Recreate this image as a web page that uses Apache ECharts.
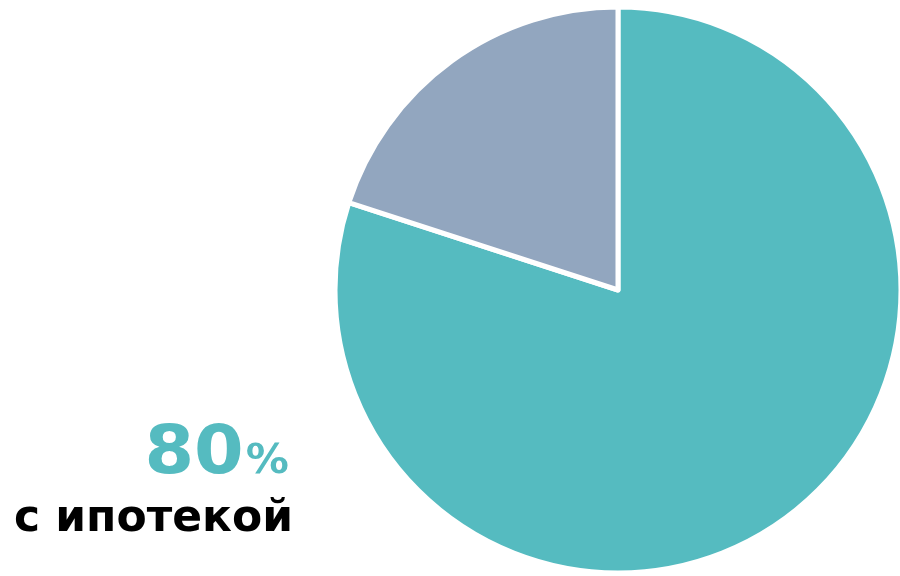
<!DOCTYPE html>
<html><head><meta charset="utf-8">
<script src="https://cdn.jsdelivr.net/npm/echarts@6/dist/echarts.min.js"></script>
<style>html,body{margin:0;padding:0;background:#fff}#c{width:900px;height:576px}</style>
</head><body><div id="c"></div>
<script>
const categories = ['с ипотекой', 'без ипотеки'];
const values = [80, 20];
const colors = ['#55BBC0', '#92A6BF'];
const labelValue = '80';
const labelText = 'с ипотекой';

const chart = echarts.init(document.getElementById('c'), null, {renderer: 'canvas'});
chart.setOption({
  animation: false,
  backgroundColor: '#ffffff',
  series: [{
    type: 'pie',
    center: [618, 290],
    radius: [0, 283],
    startAngle: 90,
    clockwise: true,
    label: {show: false},
    labelLine: {show: false},
    itemStyle: {borderColor: '#ffffff', borderWidth: 5},
    emphasis: {disabled: true},
    data: categories.map((c, i) => ({name: c, value: values[i], itemStyle: {color: colors[i]}}))
  }],
  graphic: [
    {type: 'text', x: 289, y: 489, scaleX: 1.05, style: {
      text: '{n|' + labelValue + '}{p|%}', align: 'right', verticalAlign: 'bottom',
      rich: {
        n: {fontFamily: 'DejaVu Sans', fontWeight: 'bold', fontSize: 68, fill: '#55BBC0', color: '#55BBC0', verticalAlign: 'bottom'},
        p: {fontFamily: 'DejaVu Sans', fontWeight: 'bold', fontSize: 41, fill: '#55BBC0', color: '#55BBC0', verticalAlign: 'bottom', padding: [0, 0, 6, 2]}
      }
    }},
    {type: 'text', x: 293, y: 542, style: {
      text: labelText, align: 'right', verticalAlign: 'bottom',
      fontFamily: 'DejaVu Sans', fontWeight: 'bold', fontSize: 44, fill: '#000000'
    }}
  ]
});
</script></body></html>
